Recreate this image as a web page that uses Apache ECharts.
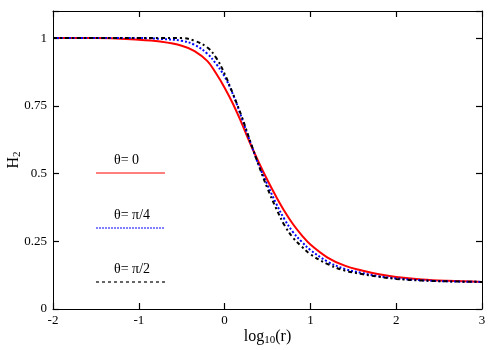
<!DOCTYPE html>
<html>
<head>
<meta charset="utf-8">
<script src="https://cdn.jsdelivr.net/npm/echarts@6/dist/echarts.min.js"></script>
<style>
  html, body { margin: 0; padding: 0; background: #fff; }
  #chart { width: 500px; height: 350px; }
</style>
</head>
<body>
<div id="chart"></div>
<script>
// log10(r) sample points
var logR = [-2, -1.5, -1, -0.75, -0.5, -0.35, -0.2, -0.1, 0, 0.1, 0.2, 0.3, 0.4, 0.5, 0.6, 0.7, 0.8, 0.9, 1.0, 1.2, 1.4, 1.6, 1.8, 2.0, 2.3, 2.6, 3.0];
// H2 for theta = 0 (red solid)
var h2Theta0 = [1, 1, 0.994, 0.987, 0.972, 0.952, 0.915, 0.87, 0.817, 0.756, 0.685, 0.61, 0.54, 0.475, 0.415, 0.36, 0.312, 0.272, 0.238, 0.19, 0.16, 0.142, 0.128, 0.118, 0.109, 0.104, 0.1];
// H2 for theta = pi/4 (blue dotted)
var h2Theta45 = [1, 1, 1, 0.997, 0.99, 0.975, 0.942, 0.905, 0.858, 0.79, 0.705, 0.615, 0.53, 0.458, 0.39, 0.33, 0.283, 0.248, 0.218, 0.175, 0.148, 0.133, 0.121, 0.113, 0.106, 0.102, 0.1];
// H2 for theta = pi/2 (black dash-dot)
var h2Theta90 = [1, 1, 1, 1, 1, 0.99, 0.965, 0.928, 0.868, 0.792, 0.71, 0.618, 0.528, 0.445, 0.372, 0.308, 0.262, 0.23, 0.202, 0.166, 0.142, 0.129, 0.119, 0.111, 0.105, 0.102, 0.1];
var legendLabels = ['θ= 0', 'θ= π/4', 'θ= π/2'];

function pairs(ys) {
    return logR.map(function (x, i) { return [x, ys[i]]; });
}

var serif = 'Liberation Serif';
var myChart = echarts.init(document.getElementById('chart'));

function tickStyle() {
    return { show: true, inside: true, length: 6, lineStyle: { color: '#000', width: 1.2 } };
}
function axisLine() {
    return { show: true, onZero: false, lineStyle: { color: '#000', width: 1 } };
}

var option = {
    animation: false,
    backgroundColor: '#fff',
    grid: { left: 53, right: 18, top: 11, bottom: 41, containLabel: false, outerBoundsMode: 'none' },
    xAxis: [
        {
            type: 'value', min: -2, max: 3, interval: 1,
            axisLine: axisLine(), axisTick: tickStyle(), splitLine: { show: false },
            axisLabel: { color: '#000', fontFamily: serif, fontSize: 13, margin: 5 },
            name: '{a|log}{s|10}{a|(r)}', nameLocation: 'middle', nameGap: 18, nameMoveOverlap: false,
            nameTextStyle: {
                rich: {
                    a: { fontFamily: serif, fontSize: 16, color: '#000' },
                    s: { fontFamily: serif, fontSize: 11, color: '#000', padding: [8, 0, 0, 0] }
                }
            }
        },
        {
            type: 'value', position: 'top', min: -2, max: 3, interval: 1,
            axisLine: axisLine(), axisTick: tickStyle(), axisLabel: { show: false }, splitLine: { show: false }
        }
    ],
    yAxis: [
        {
            type: 'value', min: 0, max: 1.1, interval: 0.25,
            axisLine: axisLine(), axisTick: tickStyle(), splitLine: { show: false },
            axisLabel: {
                color: '#000', fontFamily: serif, fontSize: 13, margin: 6,
                formatter: function (v) { return v > 1.01 ? '' : String(v); }
            },
            name: '{a|H}{s|2}', nameLocation: 'middle', nameGap: 30, nameRotate: 90, nameMoveOverlap: false,
            nameTextStyle: {
                rich: {
                    a: { fontFamily: serif, fontSize: 16, color: '#000' },
                    s: { fontFamily: serif, fontSize: 11, color: '#000', padding: [8, 0, 0, 0] }
                }
            }
        },
        {
            type: 'value', position: 'right', min: 0, max: 1.1, interval: 0.25,
            axisLine: axisLine(), axisTick: tickStyle(), axisLabel: { show: false }, splitLine: { show: false }
        }
    ],
    series: [
        {
            name: legendLabels[0], type: 'line', smooth: 0.4, showSymbol: false,
            data: pairs(h2Theta0), z: 3,
            lineStyle: { color: '#ff0000', width: 2, type: 'solid' }
        },
        {
            name: legendLabels[1], type: 'line', smooth: 0.4, showSymbol: false,
            data: pairs(h2Theta45), z: 4,
            lineStyle: { color: '#0000ff', width: 2, type: [2, 2] }
        },
        {
            name: legendLabels[2], type: 'line', smooth: 0.4, showSymbol: false,
            data: pairs(h2Theta90), z: 5,
            lineStyle: { color: '#000000', width: 2, type: [4, 3, 2, 3] }
        }
    ],
    graphic: [
        { type: 'text', left: 114, top: 153, style: { text: legendLabels[0], font: '14px "Liberation Serif"', fill: '#000' } },
        { type: 'line', shape: { x1: 96, y1: 173, x2: 165, y2: 173 }, style: { stroke: '#ff0000', lineWidth: 1.2 } },
        { type: 'text', left: 114, top: 208, style: { text: legendLabels[1], font: '14px "Liberation Serif"', fill: '#000' } },
        { type: 'line', shape: { x1: 96, y1: 228, x2: 165, y2: 228 }, style: { stroke: '#0000ff', lineWidth: 1.2, lineDash: [2, 1] } },
        { type: 'text', left: 114, top: 262, style: { text: legendLabels[2], font: '14px "Liberation Serif"', fill: '#000' } },
        { type: 'line', shape: { x1: 96, y1: 282, x2: 165, y2: 282 }, style: { stroke: '#000000', lineWidth: 1.2, lineDash: [3, 3] } }
    ]
};
myChart.setOption(option);
</script>
</body>
</html>
